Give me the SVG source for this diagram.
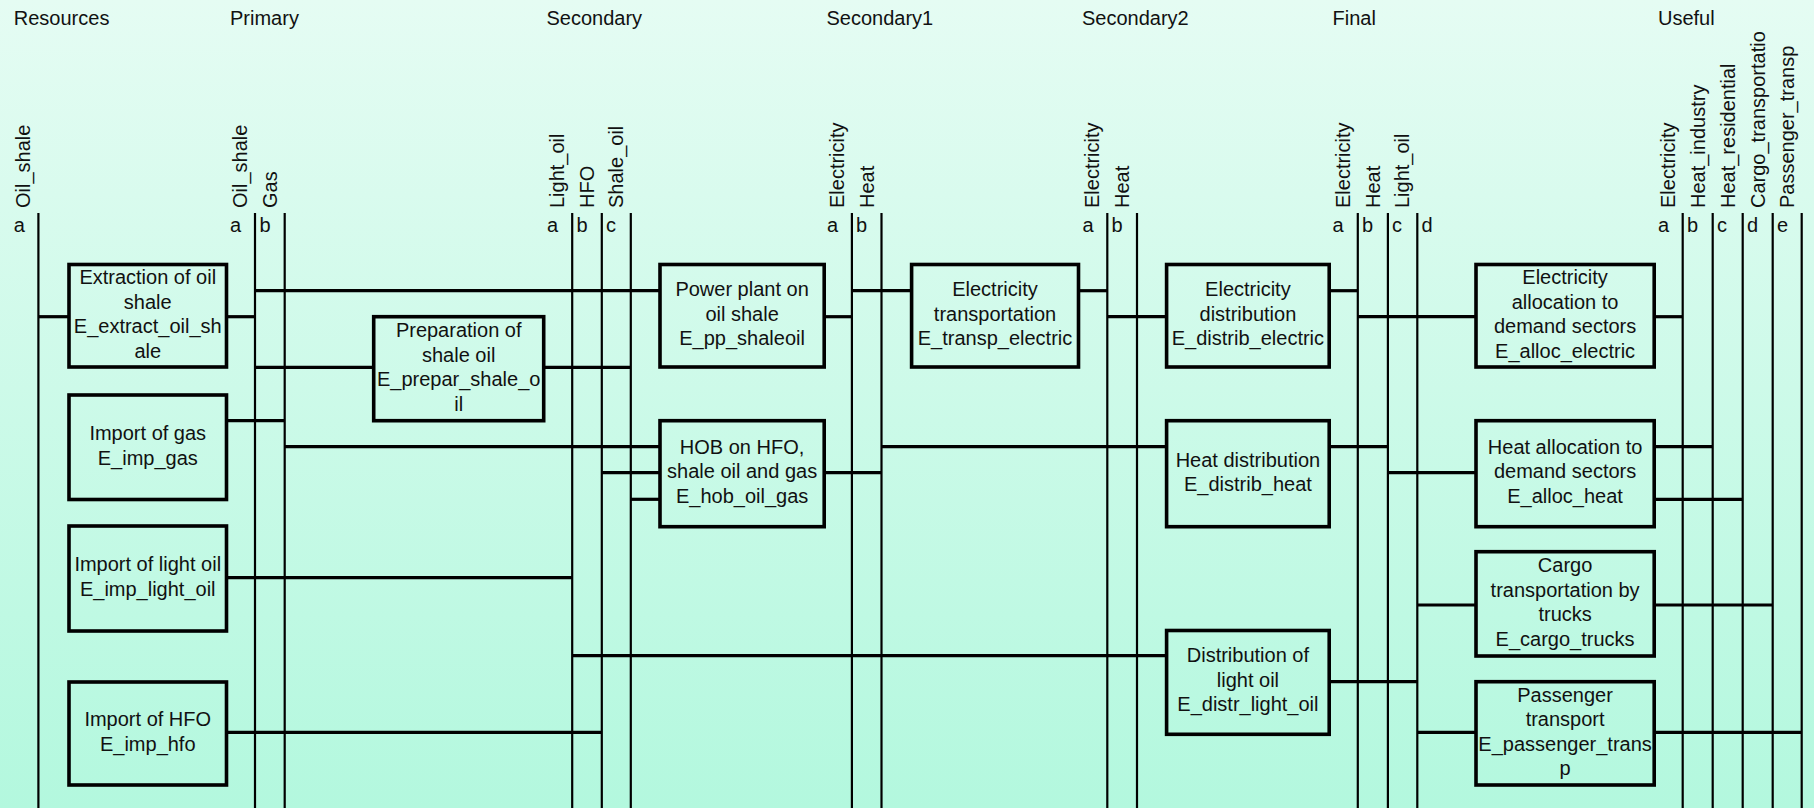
<svg xmlns="http://www.w3.org/2000/svg" width="1814" height="808" viewBox="0 0 1814 808">
<defs>
<linearGradient id="bg" x1="0" y1="0" x2="0" y2="1">
<stop offset="0" stop-color="#e5fcf3"/>
<stop offset="1" stop-color="#b3f8de"/>
</linearGradient>
</defs>
<style>
text{font-family:"Liberation Sans",Arial,sans-serif;font-size:20px;fill:#111}
.c{text-anchor:middle}
.bus{stroke:#000;stroke-width:2.2;fill:none}
.box{stroke:#000;stroke-width:3.6;fill:none}
.con{stroke:#000;stroke-width:3.2;fill:none}
</style>
<rect x="0" y="0" width="1814" height="808" fill="url(#bg)"/>

<g id="col-resources">
<text x="13.8" y="25">Resources</text>
<text transform="translate(30.4,208) rotate(-90)">Oil_shale</text>
<text x="13.8" y="231.5">a</text>
<line class="bus" x1="38.4" y1="213" x2="38.4" y2="808"/>
</g>
<g id="col-primary">
<text x="230" y="25">Primary</text>
<text transform="translate(247,208) rotate(-90)">Oil_shale</text>
<text transform="translate(276.7,208) rotate(-90)">Gas</text>
<text x="230" y="231.5">a</text>
<text x="259.5" y="231.5">b</text>
<line class="bus" x1="255" y1="213" x2="255" y2="808"/>
<line class="bus" x1="284.7" y1="213" x2="284.7" y2="808"/>
</g>
<g id="col-secondary">
<text x="546.5" y="25">Secondary</text>
<text transform="translate(564.2,208) rotate(-90)">Light_oil</text>
<text transform="translate(593.8,208) rotate(-90)">HFO</text>
<text transform="translate(622.8,208) rotate(-90)">Shale_oil</text>
<text x="547" y="231.5">a</text>
<text x="576.5" y="231.5">b</text>
<text x="606" y="231.5">c</text>
<line class="bus" x1="572.2" y1="213" x2="572.2" y2="808"/>
<line class="bus" x1="601.8" y1="213" x2="601.8" y2="808"/>
<line class="bus" x1="630.8" y1="213" x2="630.8" y2="808"/>
</g>
<g id="col-secondary1">
<text x="826.5" y="25">Secondary1</text>
<text transform="translate(843.9,208) rotate(-90)">Electricity</text>
<text transform="translate(873.5,208) rotate(-90)">Heat</text>
<text x="827" y="231.5">a</text>
<text x="856" y="231.5">b</text>
<line class="bus" x1="851.9" y1="213" x2="851.9" y2="808"/>
<line class="bus" x1="881.5" y1="213" x2="881.5" y2="808"/>
</g>
<g id="col-secondary2">
<text x="1082" y="25">Secondary2</text>
<text transform="translate(1099.3,208) rotate(-90)">Electricity</text>
<text transform="translate(1129,208) rotate(-90)">Heat</text>
<text x="1082.5" y="231.5">a</text>
<text x="1111.5" y="231.5">b</text>
<line class="bus" x1="1107.3" y1="213" x2="1107.3" y2="808"/>
<line class="bus" x1="1137" y1="213" x2="1137" y2="808"/>
</g>
<g id="col-final">
<text x="1332.5" y="25">Final</text>
<text transform="translate(1349.8,208) rotate(-90)">Electricity</text>
<text transform="translate(1379.9,208) rotate(-90)">Heat</text>
<text transform="translate(1409.3,208) rotate(-90)">Light_oil</text>
<text x="1332.5" y="231.5">a</text>
<text x="1362" y="231.5">b</text>
<text x="1392" y="231.5">c</text>
<text x="1421.5" y="231.5">d</text>
<line class="bus" x1="1357.8" y1="213" x2="1357.8" y2="808"/>
<line class="bus" x1="1387.9" y1="213" x2="1387.9" y2="808"/>
<line class="bus" x1="1417.3" y1="213" x2="1417.3" y2="808"/>
</g>
<g id="col-useful">
<text x="1658" y="25">Useful</text>
<text transform="translate(1674.7,208) rotate(-90)">Electricity</text>
<text transform="translate(1704.7,208) rotate(-90)">Heat_industry</text>
<text transform="translate(1734.7,208) rotate(-90)">Heat_residential</text>
<text transform="translate(1764.7,208) rotate(-90)">Cargo_transportatio</text>
<text transform="translate(1793.7,208) rotate(-90)">Passenger_transp</text>
<text x="1658" y="231.5">a</text>
<text x="1687" y="231.5">b</text>
<text x="1717" y="231.5">c</text>
<text x="1747" y="231.5">d</text>
<text x="1777" y="231.5">e</text>
<line class="bus" x1="1682.7" y1="213" x2="1682.7" y2="808"/>
<line class="bus" x1="1712.7" y1="213" x2="1712.7" y2="808"/>
<line class="bus" x1="1742.7" y1="213" x2="1742.7" y2="808"/>
<line class="bus" x1="1772.7" y1="213" x2="1772.7" y2="808"/>
<line class="bus" x1="1801.7" y1="213" x2="1801.7" y2="808"/>
</g>

<g id="connectors">
<line class="con" x1="38.4" y1="316.7" x2="69" y2="316.7"/>
<line class="con" x1="226.5" y1="316.7" x2="255" y2="316.7"/>
<line class="con" x1="255" y1="290.7" x2="660" y2="290.7"/>
<line class="con" x1="255" y1="367.3" x2="373.7" y2="367.3"/>
<line class="con" x1="543.7" y1="367.3" x2="630.8" y2="367.3"/>
<line class="con" x1="226.5" y1="420.7" x2="284.7" y2="420.7"/>
<line class="con" x1="284.7" y1="446.7" x2="660" y2="446.7"/>
<line class="con" x1="601.8" y1="472.7" x2="660" y2="472.7"/>
<line class="con" x1="630.8" y1="499.3" x2="660" y2="499.3"/>
<line class="con" x1="824.2" y1="472.7" x2="881.5" y2="472.7"/>
<line class="con" x1="824.2" y1="316.7" x2="851.9" y2="316.7"/>
<line class="con" x1="851.9" y1="290.7" x2="911.6" y2="290.7"/>
<line class="con" x1="1078.5" y1="290.7" x2="1107.3" y2="290.7"/>
<line class="con" x1="1107.3" y1="316.7" x2="1166.6" y2="316.7"/>
<line class="con" x1="881.5" y1="446.7" x2="1166.6" y2="446.7"/>
<line class="con" x1="1329.2" y1="290.7" x2="1357.8" y2="290.7"/>
<line class="con" x1="1357.8" y1="316.7" x2="1476" y2="316.7"/>
<line class="con" x1="1654.2" y1="316.7" x2="1682.7" y2="316.7"/>
<line class="con" x1="1329.2" y1="446.7" x2="1387.9" y2="446.7"/>
<line class="con" x1="1387.9" y1="472.7" x2="1476" y2="472.7"/>
<line class="con" x1="1654.2" y1="446.7" x2="1712.7" y2="446.7"/>
<line class="con" x1="1654.2" y1="499.3" x2="1742.7" y2="499.3"/>
<line class="con" x1="226.5" y1="577.7" x2="572.2" y2="577.7"/>
<line class="con" x1="226.5" y1="732.3" x2="601.8" y2="732.3"/>
<line class="con" x1="572.2" y1="655.7" x2="1166.6" y2="655.7"/>
<line class="con" x1="1329.2" y1="681.7" x2="1417.3" y2="681.7"/>
<line class="con" x1="1417.3" y1="605" x2="1476" y2="605"/>
<line class="con" x1="1654.2" y1="605" x2="1772.7" y2="605"/>
<line class="con" x1="1417.3" y1="732.3" x2="1476" y2="732.3"/>
<line class="con" x1="1654.2" y1="732.3" x2="1801.7" y2="732.3"/>
</g>

<g id="E_extract_oil_shale">
<rect class="box" x="69" y="264.5" width="157.5" height="102.5"/>
<text class="c" x="147.75" y="284">Extraction of oil</text>
<text class="c" x="147.75" y="308.5">shale</text>
<text class="c" x="147.75" y="333">E_extract_oil_sh</text>
<text class="c" x="147.75" y="357.5">ale</text>
</g>
<g id="E_imp_gas">
<rect class="box" x="69" y="395" width="157.5" height="104.5"/>
<text class="c" x="147.75" y="440">Import of gas</text>
<text class="c" x="147.75" y="464.5">E_imp_gas</text>
</g>
<g id="E_imp_light_oil">
<rect class="box" x="69" y="526" width="157.5" height="105"/>
<text class="c" x="147.75" y="571.3">Import of light oil</text>
<text class="c" x="147.75" y="595.8">E_imp_light_oil</text>
</g>
<g id="E_imp_hfo">
<rect class="box" x="69" y="682" width="157.5" height="103"/>
<text class="c" x="147.75" y="726.3">Import of HFO</text>
<text class="c" x="147.75" y="750.8">E_imp_hfo</text>
</g>
<g id="E_prepar_shale_oil">
<rect class="box" x="373.7" y="316.7" width="170" height="104"/>
<text class="c" x="458.7" y="337">Preparation of</text>
<text class="c" x="458.7" y="361.5">shale oil</text>
<text class="c" x="458.7" y="386">E_prepar_shale_o</text>
<text class="c" x="458.7" y="410.5">il</text>
</g>
<g id="E_pp_shaleoil">
<rect class="box" x="660" y="264.5" width="164.2" height="102.5"/>
<text class="c" x="742.1" y="296.3">Power plant on</text>
<text class="c" x="742.1" y="320.8">oil shale</text>
<text class="c" x="742.1" y="345.3">E_pp_shaleoil</text>
</g>
<g id="E_hob_oil_gas">
<rect class="box" x="660" y="420.7" width="164.2" height="106"/>
<text class="c" x="742.1" y="453.7">HOB on HFO,</text>
<text class="c" x="742.1" y="478.2">shale oil and gas</text>
<text class="c" x="742.1" y="502.7">E_hob_oil_gas</text>
</g>
<g id="E_transp_electric">
<rect class="box" x="911.6" y="264.5" width="166.9" height="102.5"/>
<text class="c" x="995" y="296.3">Electricity</text>
<text class="c" x="995" y="320.8">transportation</text>
<text class="c" x="995" y="345.3">E_transp_electric</text>
</g>
<g id="E_distrib_electric">
<rect class="box" x="1166.6" y="264.5" width="162.6" height="102.5"/>
<text class="c" x="1247.9" y="296.3">Electricity</text>
<text class="c" x="1247.9" y="320.8">distribution</text>
<text class="c" x="1247.9" y="345.3">E_distrib_electric</text>
</g>
<g id="E_distrib_heat">
<rect class="box" x="1166.6" y="420.7" width="162.6" height="106"/>
<text class="c" x="1247.9" y="466.5">Heat distribution</text>
<text class="c" x="1247.9" y="491">E_distrib_heat</text>
</g>
<g id="E_distr_light_oil">
<rect class="box" x="1166.6" y="630.5" width="162.6" height="103.8"/>
<text class="c" x="1247.9" y="662.4">Distribution of</text>
<text class="c" x="1247.9" y="686.9">light oil</text>
<text class="c" x="1247.9" y="711.4">E_distr_light_oil</text>
</g>
<g id="E_alloc_electric">
<rect class="box" x="1476" y="264.5" width="178.2" height="102.5"/>
<text class="c" x="1565.1" y="284">Electricity</text>
<text class="c" x="1565.1" y="308.5">allocation to</text>
<text class="c" x="1565.1" y="333">demand sectors</text>
<text class="c" x="1565.1" y="357.5">E_alloc_electric</text>
</g>
<g id="E_alloc_heat">
<rect class="box" x="1476" y="420.7" width="178.2" height="106"/>
<text class="c" x="1565.1" y="453.7">Heat allocation to</text>
<text class="c" x="1565.1" y="478.2">demand sectors</text>
<text class="c" x="1565.1" y="502.7">E_alloc_heat</text>
</g>
<g id="E_cargo_trucks">
<rect class="box" x="1476" y="551.7" width="178.2" height="104.3"/>
<text class="c" x="1565.1" y="572.1">Cargo</text>
<text class="c" x="1565.1" y="596.6">transportation by</text>
<text class="c" x="1565.1" y="621.1">trucks</text>
<text class="c" x="1565.1" y="645.6">E_cargo_trucks</text>
</g>
<g id="E_passenger_transp">
<rect class="box" x="1476" y="681.7" width="178.2" height="103.3"/>
<text class="c" x="1565.1" y="701.6">Passenger</text>
<text class="c" x="1565.1" y="726.1">transport</text>
<text class="c" x="1565.1" y="750.6">E_passenger_trans</text>
<text class="c" x="1565.1" y="775.1">p</text>
</g>
</svg>
